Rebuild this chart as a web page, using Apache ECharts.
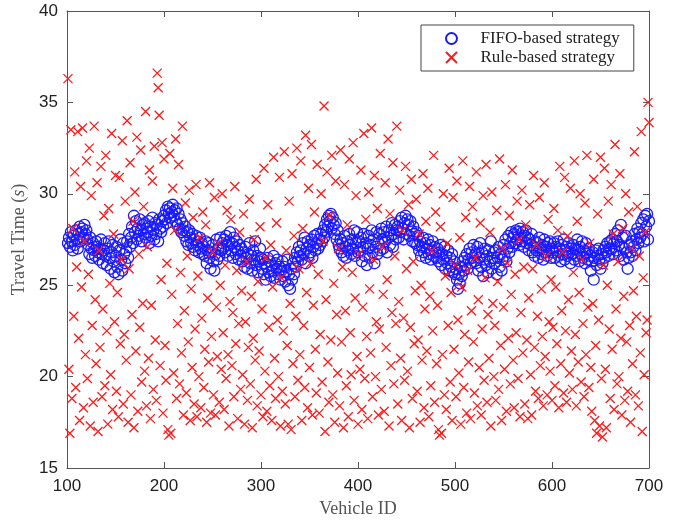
<!DOCTYPE html>
<html>
<head>
<meta charset="utf-8">
<script src="https://cdn.jsdelivr.net/npm/echarts@6/dist/echarts.min.js"></script>
<style>
  html, body { margin: 0; padding: 0; background: #fff; }
  #main { width: 679px; height: 524px; }
</style>
</head>
<body>
<div id="main"></div>
<script>
// vehicles 101..700, one value each
const firstVehicle = 101;
const xTicks = [100, 200, 300, 400, 500, 600, 700];
const yTicks = [15, 20, 25, 30, 35, 40];
const seriesNames = ["FIFO-based strategy", "Rule-based strategy"];

const fifoTimes = [
  27.3, 27.6, 27.1, 27.9, 27.4, 26.9, 27.7, 27.2, 28.0, 27.5, 27.0, 27.8, 28.2, 27.4, 27.9, 28.1, 27.6, 28.3, 27.8, 28.0,
  27.5, 27.2, 26.7, 27.6, 27.0, 26.5, 27.3, 26.9, 26.6, 27.4, 27.1, 26.8, 26.4, 27.0, 27.5, 26.7, 26.2, 26.9, 27.3, 26.6,
  26.1, 27.0, 27.4, 26.5, 25.9, 26.8, 27.2, 26.3, 25.7, 26.6, 27.1, 26.0, 25.6, 26.9, 27.5, 26.4, 25.8, 27.3, 26.7, 26.2,
  26.9, 27.4, 26.5, 27.8, 27.1, 27.6, 28.2, 27.3, 28.8, 27.9, 28.5, 27.5, 28.1, 27.7, 28.6, 28.0, 27.4, 28.3, 27.8, 28.4,
  27.6, 28.1, 27.9, 28.5, 27.3, 28.2, 27.7, 28.7, 28.0, 27.5, 28.4, 27.8, 28.3, 27.4, 28.6, 28.1, 27.9, 28.5, 28.2, 28.8,
  28.6, 29.1, 28.4, 29.3, 28.9, 29.2, 28.7, 29.0, 29.4, 28.8, 29.1, 28.5, 29.2, 28.3, 28.9, 28.1, 28.6, 27.9, 28.4, 28.0,
  27.7, 28.2, 27.4, 27.9, 27.2, 28.0, 27.6, 27.3, 27.8, 27.1, 27.5, 26.9, 27.7, 27.2, 27.4, 26.8, 27.6, 27.0, 27.3, 26.7,
  27.1, 26.6, 27.4, 26.2, 26.9, 27.3, 26.5, 25.9, 26.8, 27.2, 26.3, 25.8, 26.7, 27.5, 26.4, 27.0, 26.6, 27.6, 26.9, 27.3,
  27.0, 27.5, 26.8, 27.7, 27.2, 26.6, 27.4, 27.9, 26.9, 27.3, 26.5, 27.6, 27.1, 26.7, 27.4, 26.9, 26.4, 27.2, 26.6, 27.0,
  26.3, 26.8, 26.0, 27.1, 26.5, 25.9, 26.7, 27.3, 26.2, 26.6, 25.8, 26.9, 26.4, 27.4, 26.1, 26.6, 25.7, 26.3, 27.0, 26.5,
  25.9, 26.4, 25.6, 26.2, 25.3, 26.0, 26.5, 25.7, 26.3, 25.5, 26.1, 25.8, 26.6, 25.4, 26.2, 25.9, 26.4, 25.6, 26.0, 25.3,
  25.8, 26.3, 25.5, 26.0, 25.2, 25.7, 26.4, 25.0, 25.6, 24.8, 25.9, 25.3, 26.2, 25.6, 26.5, 26.0, 26.8, 26.3, 27.1, 26.6,
  26.9, 26.4, 27.3, 26.7, 27.6, 26.2, 27.0, 27.4, 26.6, 27.2, 26.8, 27.5, 26.5, 27.1, 27.7, 26.9, 27.3, 27.8, 27.0, 27.5,
  27.2, 27.8, 27.4, 28.0, 27.6, 28.3, 27.9, 28.6, 28.2, 28.8, 28.5, 28.9, 28.1, 28.7, 28.3, 27.8, 28.4, 27.5, 28.0, 27.2,
  27.0, 27.5, 26.8, 27.3, 26.6, 27.7, 27.1, 26.5, 27.4, 26.9, 27.8, 27.2, 26.7, 27.5, 27.0, 28.0, 26.6, 27.3, 27.9, 26.8,
  27.4, 26.9, 27.6, 26.3, 27.1, 27.8, 26.6, 27.3, 26.1, 27.0, 27.7, 26.5, 27.2, 28.0, 26.8, 27.5, 26.2, 27.1, 27.9, 26.7,
  27.3, 27.8, 26.9, 28.1, 27.5, 27.0, 27.9, 27.4, 28.2, 26.8, 27.6, 28.0, 27.2, 27.7, 28.4, 27.1, 27.8, 28.3, 27.5, 28.0,
  28.2, 27.6, 28.5, 27.9, 28.7, 28.1, 27.5, 28.4, 28.8, 27.8, 28.6, 28.3, 27.7, 28.5, 28.0, 27.4, 28.2, 27.8, 27.3, 27.9,
  27.2, 27.7, 26.9, 27.4, 26.6, 27.1, 27.6, 26.8, 27.3, 26.5, 27.0, 27.5, 26.7, 27.2, 26.4, 26.9, 27.4, 26.6, 27.1, 26.8,
  26.5, 27.0, 26.3, 26.8, 27.2, 26.1, 26.7, 26.4, 27.1, 25.9, 26.6, 26.2, 26.9, 25.8, 26.5, 26.0, 26.7, 25.7, 26.3, 25.6,
  25.9, 25.3, 24.8, 25.6, 25.1, 26.0, 25.5, 26.3, 25.8, 26.5, 26.1, 26.7, 25.9, 26.4, 27.0, 26.2, 26.8, 26.5, 27.2, 26.3,
  26.7, 26.2, 27.1, 25.8, 26.5, 27.3, 26.0, 26.8, 25.5, 26.4, 27.0, 26.1, 26.6, 25.7, 26.9, 26.3, 27.4, 25.9, 26.5, 26.8,
  26.2, 26.9, 25.6, 26.5, 27.1, 26.0, 26.7, 25.8, 26.4, 27.2, 26.6, 27.5, 26.3, 27.0, 27.7, 26.8, 27.3, 27.9, 27.1, 27.6,
  27.8, 27.3, 28.0, 27.5, 27.9, 27.2, 28.1, 27.6, 27.4, 27.9, 27.1, 27.7, 28.0, 27.3, 27.6, 26.9, 27.5, 27.2, 27.8, 26.8,
  27.1, 26.6, 27.4, 26.9, 27.3, 26.5, 27.6, 27.0, 26.7, 27.2, 26.4, 27.5, 26.8, 27.1, 26.6, 27.3, 26.9, 27.4, 26.5, 27.0,
  26.8, 27.3, 26.5, 27.1, 26.9, 27.4, 26.6, 27.0, 26.3, 27.2, 26.7, 27.5, 26.4, 26.9, 27.1, 26.6, 27.3, 26.8, 26.2, 27.0,
  26.7, 27.2, 26.4, 27.0, 26.6, 27.5, 26.9, 26.3, 27.1, 26.7, 27.4, 26.5, 26.9, 26.2, 27.3, 26.8, 26.4, 27.0, 26.6, 25.8,
  26.3, 26.8, 25.3, 26.5, 26.9, 26.1, 26.6, 27.0, 26.4, 25.9, 26.7, 26.2, 26.9, 26.5, 27.1, 26.8, 27.3, 26.6, 27.0, 27.4,
  27.0, 27.5, 26.7, 27.3, 27.8, 26.9, 27.4, 28.0, 27.2, 26.6, 28.3, 27.1, 27.6, 26.4, 27.0, 27.7, 26.8, 25.9, 26.5, 27.2,
  26.8, 27.4, 26.6, 27.1, 27.8, 26.9, 27.5, 28.1, 27.3, 27.9, 27.6, 28.4, 27.8, 28.6, 27.4, 28.8, 28.2, 28.9, 27.5, 28.5
];

const ruleTimes = [
  36.3, 20.4, 16.9, 33.5, 18.8, 28.1, 23.3, 31.2, 19.4, 26.0, 33.4, 22.1, 17.6, 30.4, 24.9, 33.6, 18.3, 27.4, 21.2, 31.8,
  19.9, 25.6, 32.5, 17.3, 29.9, 22.8, 18.6, 33.7, 24.2, 20.7, 30.6, 17.0, 26.9, 21.6, 31.5, 18.9, 23.7, 28.8, 19.5, 32.1,
  22.5, 17.4, 29.2, 25.1, 20.1, 33.3, 18.2, 27.8, 23.0, 31.0, 19.2, 24.6, 17.8, 30.9, 21.8, 26.4, 32.9, 18.5, 22.3, 29.6,
  20.9, 34.0, 17.5, 25.9, 31.7, 19.0, 23.4, 28.5, 17.2, 30.1, 21.4, 33.1, 18.1, 26.7, 22.7, 32.4, 19.7, 24.0, 29.3, 20.3,
  34.5, 18.4, 27.1, 21.0, 31.3, 17.7, 23.9, 30.7, 19.3, 32.6, 22.0, 18.7, 36.6, 35.8, 34.3, 20.6, 25.3, 32.8, 18.0, 31.9,
  21.7, 19.8, 26.2, 17.1, 16.8, 32.2, 16.9, 24.5, 30.3, 20.2, 28.0, 33.0, 18.8, 22.9, 31.6, 19.6, 25.7, 21.3, 33.7, 17.9,
  23.6, 29.5, 19.1, 26.6, 21.9, 30.2, 17.6, 24.8, 20.5, 28.7, 18.5, 22.6, 30.5, 17.8, 25.5, 20.0, 27.6, 18.3, 23.2, 29.0,
  19.4, 21.5, 28.3, 17.5, 24.3, 20.8, 30.6, 18.0, 22.2, 26.8, 19.0, 29.8, 17.9, 23.8, 21.1, 27.3, 18.6, 25.0, 20.4, 30.0,
  22.4, 18.2, 26.1, 19.9, 29.1, 21.2, 17.3, 24.1, 28.6, 20.6, 23.5, 18.9, 30.4, 21.8, 25.8, 17.7, 22.9, 27.9, 19.3, 24.7,
  20.1, 28.9, 17.4, 23.0, 26.3, 18.7, 21.6, 29.7, 19.6, 24.4, 17.2, 22.1, 27.5, 20.9, 30.8, 18.4, 25.2, 21.4, 28.2, 19.0,
  23.7, 17.8, 31.4, 20.3, 26.5, 18.1, 29.4, 22.7, 19.5, 27.2, 17.6, 24.9, 32.0, 21.0, 18.8, 28.4, 23.1, 20.0, 30.9, 17.3,
  25.4, 19.2, 22.5, 32.3, 18.5, 26.9, 21.7, 17.4, 29.6, 24.0, 17.1, 31.1, 20.7, 27.7, 18.9, 23.3, 32.5, 19.8, 25.9, 21.2,
  31.8, 17.6, 28.1, 22.8, 19.4, 33.2, 24.6, 18.3, 30.3, 20.5, 26.2, 32.7, 17.9, 23.9, 29.0, 21.5, 19.1, 31.6, 25.6, 18.0,
  22.3, 30.0, 19.7, 27.4, 34.8, 17.0, 24.2, 31.2, 20.8, 18.6, 28.8, 22.0, 32.1, 19.0, 25.1, 17.5, 30.7, 23.4, 20.2, 27.0,
  18.4, 32.4, 21.9, 26.0, 17.2, 30.5, 23.6, 19.5, 28.3, 17.8, 31.9, 22.4, 20.1, 25.7, 32.8, 18.7, 24.3, 29.9, 21.1, 17.4,
  26.7, 20.4, 31.3, 18.2, 23.8, 33.3, 19.9, 28.6, 22.2, 17.7, 30.1, 24.8, 21.3, 33.6, 18.9, 26.4, 31.0, 20.0, 23.0, 29.2,
  17.9, 22.6, 32.2, 19.3, 27.1, 24.5, 18.1, 30.6, 21.6, 25.3, 33.0, 17.3, 28.9, 20.6, 23.5, 31.7, 19.6, 26.6, 22.9, 33.7,
  18.5, 24.1, 30.2, 21.0, 17.6, 28.0, 23.2, 19.8, 31.5, 25.9, 20.3, 29.4, 17.2, 22.7, 30.8, 18.8, 26.3, 21.8, 24.7, 29.7,
  19.2, 22.0, 27.8, 17.5, 25.0, 20.9, 31.1, 18.3, 23.7, 28.5, 21.4, 30.3, 17.8, 24.4, 19.5, 26.9, 22.5, 32.1, 18.6, 29.0,
  20.7, 23.9, 17.1, 16.8, 28.2, 16.9, 21.2, 30.0, 19.0, 25.5, 18.2, 27.3, 22.8, 31.4, 19.7, 24.6, 17.6, 29.8, 21.5, 26.1,
  18.9, 30.7, 23.1, 20.2, 27.6, 17.4, 24.9, 31.8, 19.4, 22.3, 28.7, 18.0, 25.8, 20.8, 30.4, 17.7, 23.6, 29.3, 21.9, 19.1,
  26.5, 31.2, 18.4, 24.2, 20.5, 28.4, 17.9, 22.6, 29.9, 19.8, 25.4, 31.6, 18.6, 23.4, 21.0, 27.9, 17.3, 30.1, 24.0, 20.0,
  22.8, 18.7, 29.1, 25.2, 19.3, 31.9, 21.7, 17.6, 27.0, 23.8, 20.4, 30.5, 18.1, 26.2, 22.1, 28.8, 19.6, 24.5, 31.3, 20.9,
  18.3, 25.6, 22.4, 29.6, 19.9, 27.5, 17.8, 23.5, 30.2, 21.3, 26.0, 18.5, 28.3, 22.0, 17.7, 24.3, 29.4, 20.1, 17.9, 25.9,
  31.0, 21.6, 19.2, 27.2, 23.3, 18.8, 29.8, 20.6, 24.8, 22.2, 18.4, 30.6, 21.1, 26.6, 19.0, 28.6, 23.0, 20.3, 25.3, 18.7,
  22.7, 29.2, 19.5, 24.9, 21.8, 28.0, 18.3, 31.5, 20.7, 23.6, 26.8, 19.1, 30.9, 22.5, 18.6, 27.7, 24.2, 20.2, 30.3, 21.4,
  19.3, 25.7, 31.8, 22.3, 18.4, 28.5, 20.8, 24.6, 30.0, 19.7, 26.4, 22.9, 18.9, 29.5, 21.2, 32.1, 23.8, 19.4, 27.3, 20.5,
  18.1, 24.0, 30.8, 17.6, 21.7, 16.9, 28.9, 23.1, 17.3, 32.0, 19.9, 16.7, 26.1, 31.4, 20.4, 17.2, 25.0, 29.6, 22.6, 18.8,
  30.5, 21.5, 27.8, 18.2, 32.7, 23.7, 19.6, 26.3, 20.0, 31.1, 22.1, 17.9, 28.1, 24.4, 18.7, 30.0, 21.9, 19.2, 29.0, 22.8,
  17.5, 27.0, 20.7, 24.7, 32.3, 19.0, 23.3, 29.3, 18.4, 26.6, 21.3, 33.4, 17.0, 25.4, 20.1, 27.9, 22.4, 23.1, 35.0, 33.9
];

const toPoints = (values) => values.map((v, i) => [firstVehicle + i, v]);

const serif = "'Liberation Serif', 'DejaVu Serif', serif";
const sans = "'Liberation Sans', Arial, sans-serif";
const axisColor = "#555";

const tickAxis = (extra) => ({
  axisLine: { show: true, onZero: false, lineStyle: { color: axisColor, width: 1 } },
  axisTick: { show: true, inside: true, length: 6, lineStyle: { color: axisColor } },
  splitLine: { show: false },
  ...extra,
});

const myChart = echarts.init(document.getElementById("main"), null, { renderer: "canvas" });

const option = {
  animation: false,
  backgroundColor: "#fff",
  grid: { left: 67, right: 30, top: 11, bottom: 56 },
  legend: {
    orient: "vertical",
    left: 421,
    top: 25,
    padding: [5, 14, 5, 24],
    itemWidth: 48,
    itemHeight: 11,
    itemGap: 2,
    borderColor: "#444",
    borderWidth: 1,
    backgroundColor: "#fff",
    data: seriesNames,
    textStyle: { fontFamily: serif, fontSize: 17, color: "#222", lineHeight: 16 },
  },
  xAxis: [
    tickAxis({
      type: "value",
      min: xTicks[0],
      max: xTicks[xTicks.length - 1],
      interval: 100,
      name: "Vehicle ID",
      nameLocation: "middle",
      nameGap: 32,
      nameTextStyle: { fontFamily: serif, fontSize: 18, color: "#555" },
      axisLabel: { fontFamily: sans, fontSize: 17, color: "#222", margin: 10 },
    }),
    tickAxis({
      type: "value",
      position: "top",
      min: xTicks[0],
      max: xTicks[xTicks.length - 1],
      interval: 100,
      axisLabel: { show: false },
    }),
  ],
  yAxis: [
    tickAxis({
      type: "value",
      min: yTicks[0],
      max: yTicks[yTicks.length - 1],
      interval: 5,
      name: "Travel Time ({i|s})",
      nameLocation: "middle",
      nameGap: 31,
      nameTextStyle: {
        fontFamily: serif,
        fontSize: 18,
        color: "#555",
        rich: { i: { fontFamily: serif, fontSize: 18, color: "#555", fontStyle: "italic" } },
      },
      axisLabel: { fontFamily: sans, fontSize: 17, color: "#222", margin: 9 },
    }),
    tickAxis({
      type: "value",
      position: "right",
      min: yTicks[0],
      max: yTicks[yTicks.length - 1],
      interval: 5,
      axisLabel: { show: false },
    }),
  ],
  series: [
    {
      name: seriesNames[0],
      type: "scatter",
      symbol: "circle",
      symbolSize: 11,
      itemStyle: { color: "rgba(0,0,0,0)", borderColor: "#1a1aff", borderWidth: 1.3, opacity: 1 },
      data: toPoints(fifoTimes),
    },
    {
      name: seriesNames[1],
      type: "scatter",
      symbol: "path://M0,0L10,10M10,0L0,10",
      symbolSize: 9,
      itemStyle: { color: "rgba(0,0,0,0)", borderColor: "#ff1a1a", borderWidth: 1.3, opacity: 1 },
      data: toPoints(ruleTimes),
    },
  ],
};

myChart.setOption(option);
</script>
</body>
</html>
